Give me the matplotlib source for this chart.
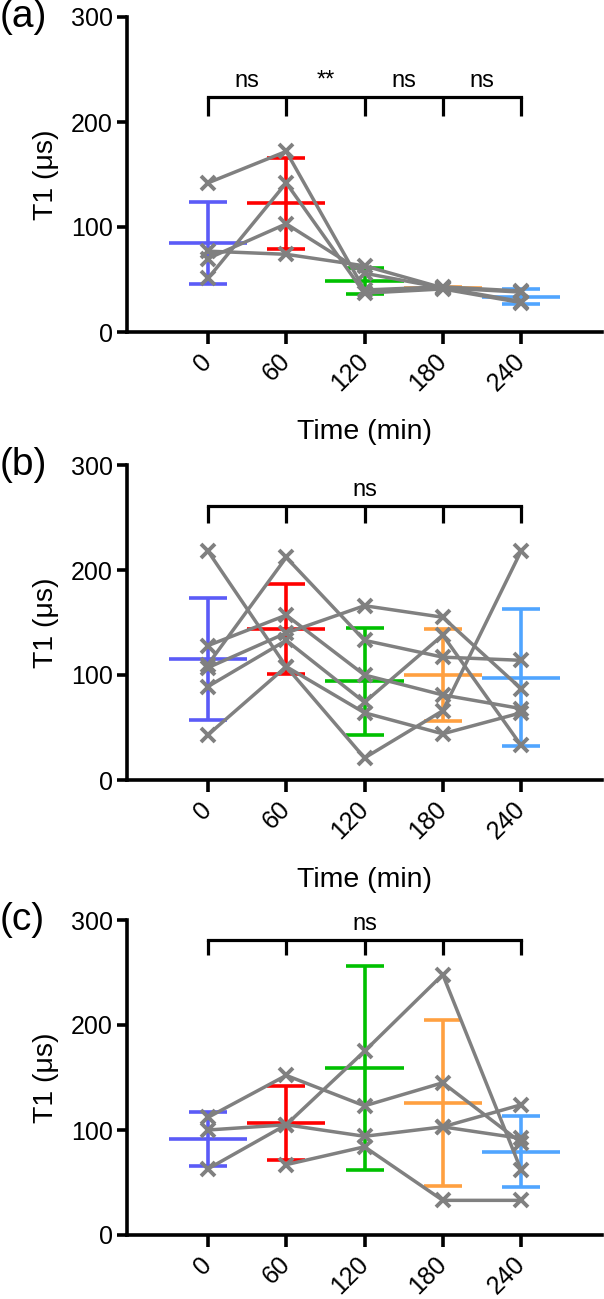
import numpy as np
import matplotlib
matplotlib.use('Agg')
import matplotlib.pyplot as plt

plt.rcParams['font.family'] = ['Liberation Sans', 'DejaVu Sans']

times = ['0', '60', '120', '180', '240']
group_colors = ['#5B5BF7', '#FF0000', '#00C000', '#FFA040', '#50A5FF']
yticks = [0, 100, 200, 300]

# ---- panel (a) ----
a_subjects = [
    [142, 172, 40, 43, 39],
    [77, 74, 63, 42, 38],
    [51, 142, 37, 41, 28],
    [70, 103, 56, 42, 29],
]
a_mean = [85, 122.5, 48.5, 42, 33.5]
a_sd = [39, 43, 12, 1, 7]
a_sig = ['ns', '**', 'ns', 'ns']
a_bracket = (206, 224)

# ---- panel (b) ----
b_subjects = [
    [218, 108, 21, 66, 218],
    [43, 108, 64, 44, 64],
    [128, 157, 100, 81, 68],
    [110, 212, 133, 117, 114],
    [107, 140, 166, 155, 87],
    [89, 133, 74, 138, 33],
]
b_mean = [115.5, 143.5, 94, 100, 97.5]
b_sd = [58, 43, 51, 44, 65]
b_sig = ['ns']
b_bracket = (245, 261)

# ---- panel (c) ----
nan = np.nan
c_subjects = [
    [112, 152, 123, 145, 88],
    [100, 105, 94, 103, 124],
    [63, 105, 175, 248, 62],
    [nan, 67, 84, 33, 33],
    [nan, nan, nan, 103, 92],
]
c_mean = [91.5, 106.5, 159, 126, 79.5]
c_sd = [25.5, 35, 97.5, 79, 34]
c_sig = ['ns']
c_bracket = (267, 281)

W, H = 604, 1299
fig = plt.figure(figsize=(W / 100, H / 100), dpi=100)

left = 127 / W
width = (602 - 127) / W
ax_h = 315 / H
bottoms = [(H - 332) / H, (H - 780) / H, (H - 1235) / H]

panels = [
    ('(a)', a_subjects, a_mean, a_sd, a_sig, a_bracket, True),
    ('(b)', b_subjects, b_mean, b_sd, b_sig, b_bracket, True),
    ('(c)', c_subjects, c_mean, c_sd, c_sig, c_bracket, False),
]

x = np.arange(len(times))
for (label, subjects, means, sds, sig, bracket, show_xlabel), bot in zip(panels, bottoms):
    ax = fig.add_axes([left, bot, width, ax_h])
    # mean + SD
    for i in range(len(times)):
        c = group_colors[i]
        ax.hlines(means[i], x[i] - 0.5, x[i] + 0.5, color=c, lw=2.6, zorder=2)
        ax.errorbar(x[i], means[i], yerr=sds[i], fmt='none', ecolor=c,
                    elinewidth=2.6, capsize=14, capthick=2.6, zorder=2)
    # individual subjects
    for s in subjects:
        ax.plot(x, s, color='#808080', lw=2.5, marker='x', markersize=10,
                markeredgewidth=2.8, zorder=3)
    # significance bracket
    yb, yt = bracket
    ax.plot([x[0], x[-1]], [yt, yt], color='black', lw=2.3, clip_on=False,
            solid_capstyle='projecting', zorder=4)
    ax.vlines(x, yb, yt, color='black', lw=2.3, clip_on=False, zorder=4)
    if len(sig) == 1:
        ax.text((x[0] + x[-1]) / 2, yt + 5, sig[0], ha='center', va='bottom',
                fontsize=17, clip_on=False)
    else:
        for k, s in enumerate(sig):
            ax.text((x[k] + x[k + 1]) / 2, yt + 5, s, ha='center', va='bottom',
                    fontsize=17, clip_on=False)

    ax.set_xlim(-1.034, 5.034)
    ax.set_ylim(0, 300)
    ax.set_yticks(yticks)
    ax.set_xticks(x)
    ax.set_xticklabels(times, rotation=45, ha='right', va='center',
                       rotation_mode='anchor')
    for sp in ['top', 'right']:
        ax.spines[sp].set_visible(False)
    for sp in ['left', 'bottom']:
        ax.spines[sp].set_linewidth(2.6)
    ax.tick_params(axis='y', width=2.6, length=7, labelsize=18, pad=3)
    ax.tick_params(axis='x', width=2.6, length=8.5, labelsize=18, pad=10)
    ax.set_ylabel('T1 (μs)', fontsize=20.5, va='center')
    ax.yaxis.set_label_coords(-81 / 475, 0.5)
    if show_xlabel:
        ax.set_xlabel('Time (min)', fontsize=20.5, va='center')
        ax.xaxis.set_label_coords(0.5, -100 / 315)
    fig.text(0.0, bot + ax_h, label, fontsize=28, ha='left', va='center')

fig.savefig('out.png', dpi=100)
